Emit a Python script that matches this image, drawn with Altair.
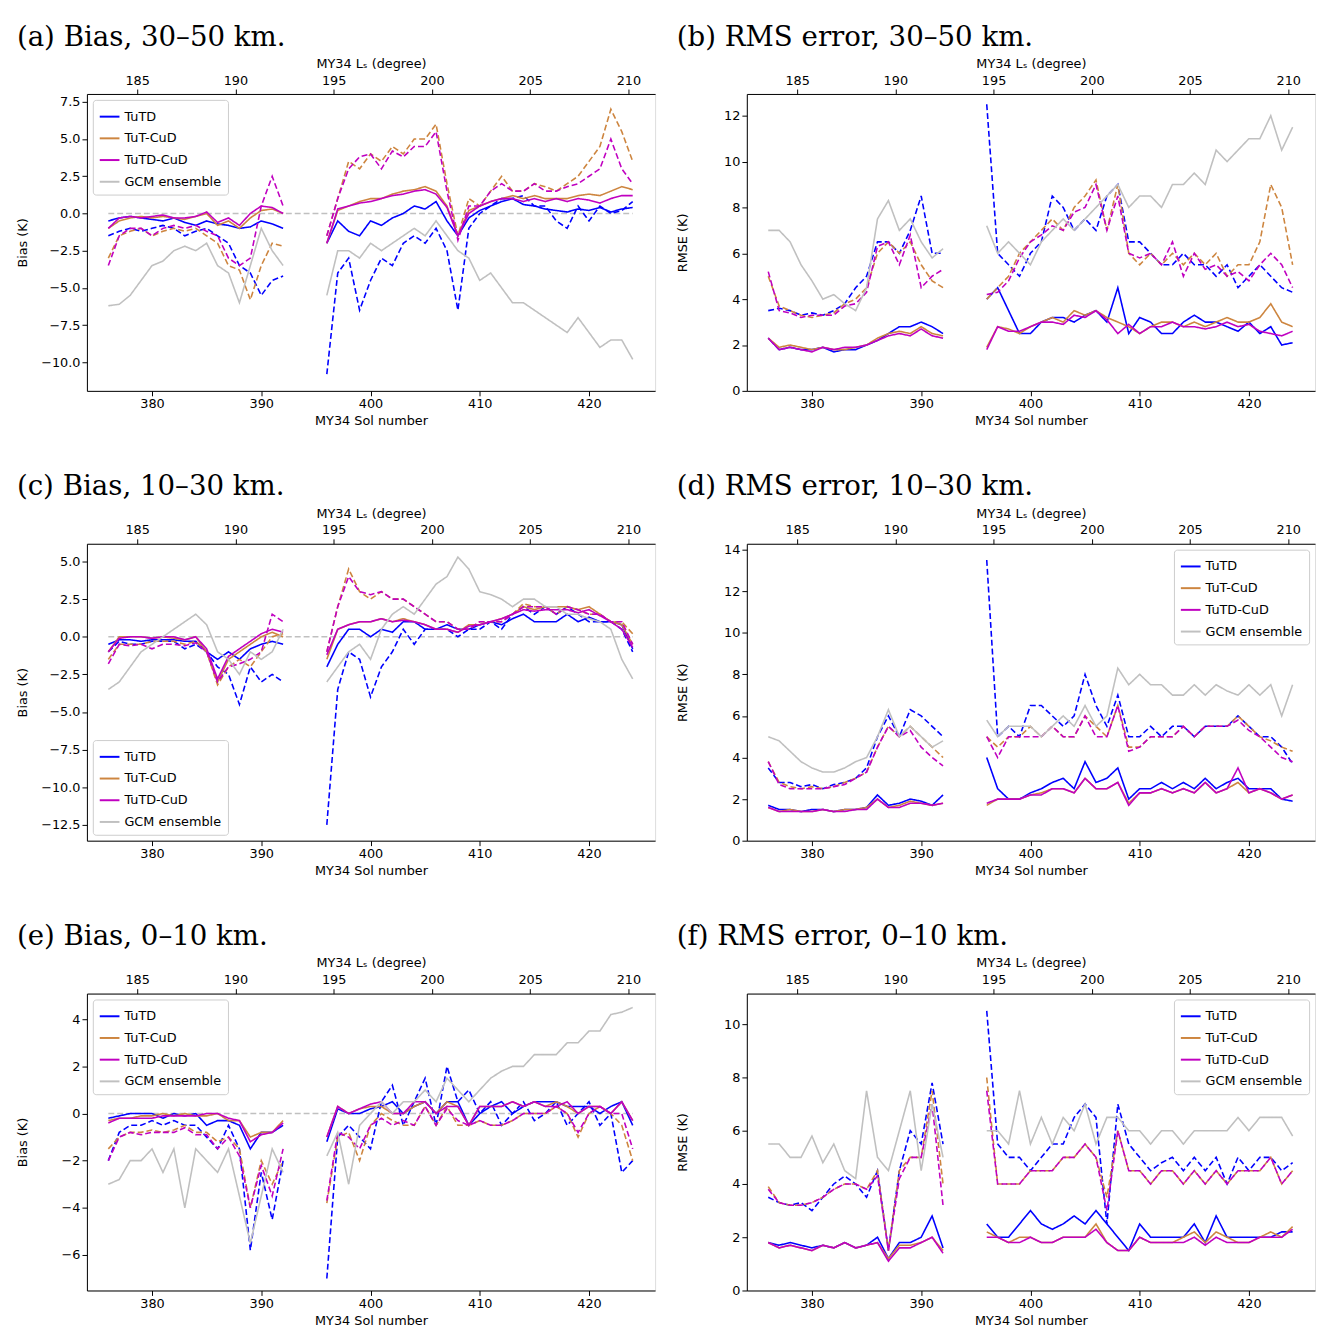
import altair as alt
import pandas as pd

SOL1 = list(range(376, 393))
SOL2 = list(range(396, 425))
SERIES = ["TuTD", "TuT-CuD", "TuTD-CuD", "GCM ensemble"]
COLORS = ["#0000ff", "#cd853f", "#c000c0", "#c0c0c0"]

# ---- panel a: bias 30-50 km ----
a_tutd = [-0.5,-0.3,-0.2,-0.3,-0.4,-0.5,-0.3,-0.6,-0.8,-0.5,-0.7,-0.8,-1.0,-0.9,-0.5,-0.7,-1.0] + [-2,-0.5,-1.2,-1.5,-0.5,-0.8,-0.3,0,0.5,0.3,0.8,-0.5,-1.5,-0.3,0.2,0.5,0.8,1.0,0.6,0.5,0.3,0.2,0.1,0.3,0.2,0.4,0.1,0.3,0.4]
a_tutd_d = [-1.5,-1.2,-1.0,-1.2,-1.0,-0.8,-1.0,-1.5,-1.2,-1.0,-1.5,-2.0,-3.5,-4.0,-5.5,-4.5,-4.2] + [-10.8,-4,-3,-6.5,-4.5,-3,-3.5,-2,-1.5,-2,-1.0,-2.5,-6.5,-1.0,0,0.5,1.0,1.0,1.2,0.5,0.5,-0.5,-1.0,0.5,-0.5,0.5,0,0.2,0.8]
a_tutcud = [-1.0,-0.5,-0.3,-0.2,-0.3,-0.2,-0.3,-0.4,-0.2,0,-0.8,-0.5,-1.0,-0.3,0.2,0.3,0] + [-2,0.2,0.5,0.8,1.0,1.0,1.3,1.5,1.6,1.8,1.5,0.5,-1.5,0.2,0.5,0.8,1.0,1.2,1.0,1.2,1.0,1.0,1.0,1.2,1.3,1.2,1.5,1.8,1.6]
a_tutcud_d = [-3,-1.5,-1.2,-1.0,-1.5,-1.2,-1.0,-1.2,-1.0,-1.5,-2.0,-3.5,-3.8,-5.8,-3.5,-2.0,-2.2] + [-1.5,1.0,3.5,3.0,4.0,3.5,4.5,4.0,5.0,5.0,6.0,2.0,-1.5,1.0,0.5,1.5,2.5,1.5,1.5,2.0,1.8,1.5,2.0,2.5,3.5,4.5,7.0,5.5,3.5]
a_tutdcud = [-1.0,-0.3,-0.2,-0.3,-0.2,-0.1,-0.3,-0.3,-0.2,0.1,-0.6,-0.3,-0.8,0,0.5,0.4,0] + [-2,0.3,0.5,0.7,0.8,1.0,1.2,1.3,1.5,1.6,1.3,0.4,-1.5,0,0.5,0.8,1.0,1.0,0.8,1.0,0.8,1.0,0.8,1.0,0.9,0.7,1.0,1.2,1.2]
a_tutdcud_d = [-3.5,-1.5,-1.0,-1.0,-1.5,-1.0,-0.8,-1.0,-0.8,-1.2,-1.5,-3.0,-3.5,-3.0,0.5,2.5,0.5] + [-1.5,1.0,3.0,3.8,4.0,3.0,4.2,3.8,4.5,4.5,5.5,1.5,-1.8,0.5,0.5,1.5,2.0,1.5,1.5,2.0,1.5,1.5,1.8,2.0,2.5,3.0,5.0,3.0,2.0]
a_gcm = [-6.2,-6.1,-5.5,-4.5,-3.5,-3.2,-2.5,-2.2,-2.5,-2.0,-3.5,-4.0,-6.0,-3.5,-1.0,-2.5,-3.5] + [-5.5,-2.5,-2.5,-3,-2,-2.5,-2,-1.5,-1,-1.5,-0.5,-1.5,-2.5,-3,-4.5,-4,-5,-6,-6,-6.5,-7,-7.5,-8,-7,-8,-9,-8.5,-8.5,-9.8]

# ---- panel b: RMSE 30-50 km ----
b_tutd = [2.3,1.8,1.9,1.8,1.8,1.9,1.7,1.8,1.8,2.0,2.2,2.5,2.8,2.8,3.0,2.8,2.5] + [4.0,4.5,3.5,2.5,2.5,3.0,3.2,3.2,3.0,3.3,3.5,3.0,4.5,2.5,3.2,3.0,2.5,2.5,3.0,3.3,3.0,3.0,2.8,2.6,3.0,2.5,2.8,2.0,2.1]
b_tutd_d = [3.5,3.6,3.5,3.3,3.4,3.3,3.5,3.8,4.5,5.0,6.5,6.5,6.0,7.0,8.5,6.0,6.0] + [12.5,6.0,5.5,5.0,6.0,6.5,8.5,8.0,7.0,7.5,7.0,8.5,9.0,6.5,6.5,6.0,5.5,5.5,6.0,5.5,5.5,5.0,5.5,4.5,5.0,5.5,5.0,4.5,4.3]
b_tutcud = [2.3,1.9,2.0,1.9,1.8,1.9,1.8,1.8,1.9,2.0,2.3,2.5,2.6,2.5,2.8,2.5,2.4] + [1.9,2.8,2.7,2.5,2.8,3.0,3.2,3.0,3.5,3.3,3.5,3.2,3.0,2.8,2.5,2.8,3.0,3.0,2.8,3.0,2.8,3.0,3.2,3.0,3.0,3.2,3.8,3.0,2.8]
b_tutcud_d = [5.0,3.7,3.5,3.3,3.2,3.3,3.4,3.8,4.0,4.5,6.0,6.5,6.0,6.5,5.5,4.8,4.5] + [4.0,4.5,5.0,6.0,6.5,7.0,7.5,7.0,8.0,8.5,9.2,7.0,9.0,6.0,5.5,6.0,5.5,6.0,5.5,6.0,5.5,6.0,5.0,5.5,5.5,6.5,9.0,8.0,5.5]
b_tutdcud = [2.3,1.8,1.9,1.8,1.7,1.9,1.8,1.9,1.9,2.0,2.2,2.4,2.5,2.4,2.7,2.4,2.3] + [1.8,2.8,2.6,2.6,2.8,3.0,3.0,2.9,3.3,3.2,3.5,3.1,2.5,2.9,2.5,2.8,2.8,3.0,2.8,2.8,2.7,2.8,3.0,2.8,2.9,2.6,2.5,2.4,2.6]
b_tutdcud_d = [5.2,3.5,3.4,3.2,3.3,3.3,3.3,3.7,3.8,4.3,6.3,6.5,5.5,6.8,4.5,5.0,5.3] + [4.2,4.3,4.8,5.8,6.5,6.8,7.2,7.0,7.8,8.0,9.0,7.0,8.5,6.0,5.8,6.0,5.5,6.5,5.0,6.0,5.3,5.5,5.0,5.2,4.8,5.5,6.0,5.5,4.5]
b_gcm = [7.0,7.0,6.5,5.5,4.8,4.0,4.2,3.8,3.5,4.5,7.5,8.3,7.0,7.5,6.5,5.8,6.2] + [7.2,6.0,6.5,6.0,5.5,6.5,7.0,7.5,7.0,7.5,8.0,8.5,9.0,8.0,8.5,8.5,8.0,9.0,9.0,9.5,9.0,10.5,10.0,10.5,11.0,11.0,12.0,10.5,11.5]

# ---- panel c: bias 10-30 km ----
c_tutd = [-0.5,-0.2,-0.2,-0.3,-0.2,-0.2,-0.2,-0.3,-0.3,-1.0,-1.5,-1.0,-1.5,-0.8,-0.5,-0.3,-0.5] + [-2.0,-0.5,0.5,0.5,0,0.5,0.3,1.0,1.0,0.5,0.5,0.8,0.5,0.5,0.8,1.0,0.8,1.2,1.5,1.0,1.0,1.0,1.5,1.0,1.3,1.0,1.0,0.8,-0.8]
c_tutd_d = [-1.0,-0.3,-0.5,-0.5,-0.3,-0.3,-0.3,-0.8,-0.5,-1.0,-2.0,-2.5,-4.5,-2.0,-3.0,-2.5,-3.0] + [-12.5,-3.5,-1.0,-1.5,-4.0,-2.0,-1.0,0.5,-0.5,0.5,0.5,0.5,0.0,0.5,0.5,1.0,0.5,1.5,2.0,1.5,2.0,1.5,2.0,1.5,1.0,1.0,1.0,0.5,-1.0]
c_tutcud = [-1.0,0,0,0,-0.1,0,-0.1,-0.2,0,-1.0,-3.0,-1.5,-1.0,-0.5,0,0.3,0] + [-1.5,0.5,0.8,1.0,1.0,1.2,1.0,1.2,1.0,0.8,0.5,0.5,0.3,0.8,0.8,1.0,1.2,1.5,2.0,1.8,2.0,2.0,2.0,1.8,2.0,1.5,1.0,0.8,-0.5]
c_tutcud_d = [-1.5,-0.5,-0.5,-0.5,-0.3,-0.3,-0.3,-0.5,-0.3,-1.0,-3.2,-2.0,-1.5,-2.0,-1.0,0,0.2] + [-1.0,2.0,4.5,3.0,2.5,3.0,2.5,2.5,2.0,1.5,1.0,1.0,0.5,0.5,1.0,1.0,1.0,1.5,2.2,2.0,2.0,1.5,2.0,1.8,1.5,1.5,1.0,1.0,0.2]
c_tutdcud = [-1.0,-0.1,0,0,-0.1,0,0,-0.2,0,-0.8,-2.8,-1.3,-0.8,-0.3,0.2,0.5,0.3] + [-1.2,0.5,0.8,1.0,1.0,1.2,1.0,1.1,1.0,0.8,0.5,0.5,0.3,0.7,0.8,1.0,1.2,1.5,1.8,1.7,1.8,1.8,1.8,1.6,1.8,1.4,1.0,0.5,-0.7]
c_tutdcud_d = [-1.8,-0.5,-0.6,-0.5,-0.8,-0.5,-0.5,-0.6,-0.4,-1.0,-3.0,-2.0,-1.8,-1.5,-1.0,1.5,1.0] + [-1.0,2.0,4.0,3.0,2.8,3.0,2.5,2.5,2.0,1.5,1.0,1.0,0.5,0.5,1.0,1.0,1.0,1.5,2.0,2.0,2.0,1.5,2.0,1.8,1.5,1.5,1.0,1.0,-0.5]
c_gcm = [-3.5,-3.0,-2.0,-1.0,-0.5,0,0.5,1.0,1.5,0.8,-1.0,-1.5,-2.5,-1.0,-1.5,-1.0,0.5] + [-3.0,-2.0,-1.0,-0.5,-1.5,0.5,1.5,2.0,1.5,2.5,3.5,4.0,5.3,4.5,3.0,2.8,2.5,2.0,2.5,2.5,2.0,2.0,1.5,1.5,1.2,1.0,0.5,-1.5,-2.8]

# ---- panel d: RMSE 10-30 km ----
d_tutd = [1.7,1.5,1.5,1.4,1.5,1.5,1.4,1.5,1.5,1.6,2.2,1.7,1.8,2.0,1.9,1.7,2.2] + [4.0,2.5,2.0,2.0,2.3,2.5,2.8,3.0,2.5,3.8,2.8,3.0,3.5,2.0,2.5,2.5,2.8,2.5,2.8,2.5,3.0,2.5,2.8,3.0,2.5,2.5,2.5,2.0,1.9]
d_tutd_d = [3.5,2.8,2.8,2.6,2.7,2.5,2.7,2.8,3.0,3.5,5.0,6.0,5.0,6.3,6.0,5.5,5.0] + [13.5,5.0,5.5,5.0,6.5,6.5,6.0,5.5,6.0,8.0,6.5,5.5,7.0,5.0,5.0,5.5,5.0,5.5,5.5,5.0,5.5,5.5,5.5,6.0,5.5,5.0,5.0,4.5,3.7]
d_tutcud = [1.6,1.4,1.5,1.4,1.4,1.5,1.4,1.5,1.5,1.6,2.0,1.6,1.7,1.9,1.8,1.7,1.8] + [1.7,2.0,2.0,2.0,2.2,2.3,2.5,2.5,2.3,3.0,2.5,2.5,2.8,1.8,2.3,2.3,2.5,2.3,2.5,2.3,2.8,2.3,2.5,2.8,2.3,2.5,2.3,2.0,2.2]
d_tutcud_d = [3.8,2.8,2.6,2.5,2.6,2.5,2.6,2.8,3.0,3.3,4.5,5.5,5.0,5.5,5.0,4.5,4.0] + [5.0,4.5,5.0,5.0,5.5,5.0,5.5,5.0,5.0,6.0,5.5,5.0,6.5,4.5,4.5,5.0,5.0,5.0,5.5,5.0,5.5,5.5,5.5,6.0,5.5,5.0,4.8,4.5,4.3]
d_tutdcud = [1.6,1.4,1.4,1.4,1.4,1.5,1.4,1.4,1.5,1.5,2.0,1.6,1.6,1.8,1.8,1.7,1.8] + [1.8,2.0,2.0,2.0,2.2,2.2,2.5,2.5,2.3,3.0,2.5,2.5,2.8,1.7,2.3,2.3,2.5,2.3,2.5,2.3,2.8,2.3,2.5,3.5,2.3,2.5,2.3,2.0,2.2]
d_tutdcud_d = [3.8,2.7,2.5,2.5,2.5,2.5,2.6,2.7,3.0,3.3,4.5,5.5,5.0,5.3,4.5,4.0,3.6] + [5.0,4.0,5.0,5.0,5.0,5.0,5.5,5.0,5.0,6.0,5.0,5.0,6.5,4.3,4.5,5.0,5.0,5.0,5.5,5.0,5.5,5.5,5.5,5.8,5.3,5.0,4.5,4.0,3.8]
d_gcm = [5.0,4.8,4.3,3.8,3.5,3.3,3.3,3.5,3.8,4.0,5.0,6.3,5.0,5.5,5.0,4.5,4.8] + [5.8,5.0,5.5,5.5,5.5,5.0,5.5,6.0,5.5,6.5,5.5,6.0,8.3,7.5,8.0,7.5,7.5,7.0,7.0,7.5,7.0,7.5,7.2,7.0,7.5,7.0,7.5,6.0,7.5]

# ---- panel e: bias 0-10 km ----
e_tutd = [-0.2,-0.1,0,0,0,-0.2,0,-0.1,0,-0.5,-0.3,-0.3,-0.5,-1.5,-0.8,-0.8,-0.5] + [-1.2,0.2,0,0,0.2,0.3,0.5,0,0.3,0.5,0,0.5,0.5,-0.5,0,0.3,0.5,0,0.3,0.5,0.5,0.5,0.3,0.3,0.3,0,0.3,0.5,-0.5]
e_tutd_d = [-2.0,-0.8,-0.5,-0.5,-0.3,-0.5,-0.3,-0.5,-0.5,-1.0,-1.5,-0.5,-1.5,-5.8,-2.5,-4.5,-2.0] + [-7.0,-1.0,-0.5,-1.0,-1.5,0.5,1.2,-0.5,0.5,1.5,-0.5,2.0,0.5,1.0,0,0.5,-0.5,0,0.5,-0.3,0,0.5,-0.5,0,0.5,-0.5,0,-2.5,-2.0]
e_tutcud = [-0.3,-0.2,-0.2,-0.1,-0.1,0,-0.1,0,-0.1,-0.1,0,-0.3,-0.3,-1.0,-0.8,-0.8,-0.3] + [-1.0,0.3,0,0.2,0.3,0.3,0,0,0.3,0.5,0,0.5,0.3,-0.5,0.3,0.3,0.3,0.5,0.3,0.5,0.3,0.5,0.3,0,0.3,0.3,0,0.5,-0.3]
e_tutcud_d = [-1.5,-1.0,-0.8,-0.8,-0.7,-0.8,-0.7,-0.5,-0.8,-0.8,-1.2,-1.0,-1.5,-4.0,-2.0,-3.0,-2.0] + [-3.8,-1.0,-0.8,-2.0,-0.5,0,-0.3,-0.5,-0.5,0.3,-0.5,0.3,-0.5,-0.5,-0.3,-0.5,-0.5,-0.3,0,0,0,0.3,0,-1.0,0,0.3,0,-0.5,-2.0]
e_tutdcud = [-0.4,-0.2,-0.2,-0.2,-0.2,-0.1,-0.1,-0.1,-0.1,0,0,-0.2,-0.3,-1.2,-0.9,-0.8,-0.4] + [-1.0,0.3,0,0.2,0.4,0.5,0,0,0.5,0.5,0,0.3,0.3,-0.5,0.3,0.3,0.3,0.5,0.3,0.5,0.3,0.3,0.5,0,0.3,0.3,0,0.5,-0.3]
e_tutdcud_d = [-2.0,-1.0,-0.8,-0.9,-0.8,-0.8,-0.8,-0.6,-0.9,-0.9,-1.5,-1.0,-1.8,-4.0,-2.2,-3.5,-1.5] + [-3.7,-0.8,-1.0,-1.5,-0.5,-0.2,-0.5,-0.3,-0.5,0.3,-0.5,0.2,-0.3,-0.5,-0.3,-0.5,-0.5,-0.3,0,0,0,0.3,0,-0.8,0,0.3,0,0,-1.5]
e_gcm = [-3.0,-2.8,-2.0,-2.0,-1.5,-2.5,-1.5,-4.0,-1.5,-2.0,-2.5,-1.5,-3.5,-5.5,-3.5,-1.5,-2.5] + [-1.8,-0.8,-3.0,-0.5,0,0.5,0,0.5,0.5,1.0,0.5,1.5,1.0,0.5,1.0,1.5,1.8,2.0,2.0,2.5,2.5,2.5,3.0,3.0,3.5,3.5,4.2,4.3,4.5]

# ---- panel f: RMSE 0-10 km ----
f_tutd = [1.8,1.7,1.8,1.7,1.6,1.7,1.6,1.8,1.6,1.7,2.0,1.2,1.8,1.8,2.0,2.8,1.6] + [2.5,2.0,2.0,2.5,3.0,2.5,2.3,2.5,2.8,2.5,3.0,2.5,2.0,1.5,2.5,2.0,2.0,2.0,2.0,2.5,1.8,2.8,2.0,2.0,2.0,2.0,2.0,2.2,2.2]
f_tutd_d = [3.5,3.3,3.2,3.3,3.0,3.5,4.0,4.3,4.0,3.5,4.5,1.5,4.5,6.0,5.5,7.8,5.5] + [10.5,5.5,5.0,5.0,4.5,5.0,5.5,5.5,6.5,7.0,6.5,2.5,7.0,5.5,5.0,4.5,4.8,5.0,4.5,5.0,4.5,5.0,4.0,5.0,4.5,5.0,5.0,4.5,4.8]
f_tutcud = [1.8,1.6,1.7,1.6,1.5,1.7,1.6,1.8,1.6,1.7,1.8,1.2,1.7,1.7,1.8,2.0,1.5] + [2.2,2.0,1.8,2.0,2.0,1.8,1.8,2.0,2.0,2.0,2.5,1.8,1.5,1.5,2.0,1.8,1.8,1.8,2.0,2.2,1.8,2.2,2.0,1.8,1.8,2.0,2.2,2.0,2.4]
f_tutcud_d = [3.9,3.3,3.2,3.2,3.3,3.5,3.8,4.0,4.0,3.8,4.5,1.5,4.5,5.0,5.0,7.5,4.0] + [8.0,4.0,4.0,4.0,4.5,4.5,4.5,5.0,5.0,5.5,5.0,3.5,6.0,4.5,4.5,4.0,4.5,4.5,4.0,4.5,4.0,4.5,4.0,4.5,4.5,4.5,5.0,4.0,4.5]
f_tutdcud = [1.8,1.6,1.7,1.6,1.5,1.7,1.6,1.8,1.6,1.7,1.8,1.1,1.6,1.6,1.8,2.0,1.4] + [2.0,2.0,1.8,1.8,2.0,1.8,1.8,2.0,2.0,2.0,2.3,1.8,1.5,1.5,2.0,1.8,1.8,1.8,1.8,2.0,1.7,2.0,1.8,1.8,1.8,2.0,2.0,2.0,2.3]
f_tutdcud_d = [3.8,3.3,3.2,3.2,3.3,3.5,3.8,4.0,4.0,3.8,4.3,1.5,4.2,5.0,5.0,7.0,3.2] + [7.5,4.0,4.0,4.0,4.5,4.5,4.5,5.0,5.0,5.5,5.0,3.0,6.0,4.5,4.5,4.0,4.5,4.5,4.0,4.5,4.0,4.5,4.0,4.5,4.5,4.5,5.0,4.0,4.5]
f_gcm = [5.5,5.5,5.0,5.0,5.8,4.8,5.5,4.5,4.2,7.5,5.0,4.5,6.0,7.5,4.5,7.0,5.0] + [6.0,6.0,5.5,7.5,5.5,6.5,5.5,6.5,6.0,7.0,5.5,6.5,6.5,6.0,6.0,5.5,6.0,6.0,5.5,6.0,6.0,6.0,6.0,6.5,6.0,6.5,6.5,6.5,5.8]

LS_TICKS = [185, 190, 195, 200, 205, 210]
SOL_DOMAIN = [374.04, 426.05]
LS_DOMAIN = [182.44, 211.36]

FONT = "DejaVu Sans"
AX = dict(grid=False, labelFontSize=13, titleFontSize=13, titleFont=FONT, labelFont=FONT,
          titleFontWeight="normal", tickColor="black", domainColor="black",
          labelColor="black", titleColor="black")


def make_df(series_lists):
    rows = []
    sols = SOL1 + SOL2
    n1 = len(SOL1)
    for name, style, vals in series_lists:
        for i, (s, v) in enumerate(zip(sols, vals)):
            rows.append({"sol": s, "value": v, "series": name, "style": style,
                         "key": f"{name}|{style}|{0 if i < n1 else 1}"})
    return pd.DataFrame(rows)


def panel(title, ytitle, ydomain, yticks, data, legend_orient, bias, fmt):
    sl = [("TuTD", "solid", data[0]), ("TuTD", "dashed", data[1]),
          ("TuT-CuD", "solid", data[2]), ("TuT-CuD", "dashed", data[3]),
          ("TuTD-CuD", "solid", data[4]), ("TuTD-CuD", "dashed", data[5]),
          ("GCM ensemble", "solid", data[6])]
    df = make_df(sl)
    yscale = alt.Scale(domain=ydomain, nice=False, zero=False)
    xscale = alt.Scale(domain=SOL_DOMAIN, nice=False, zero=False)
    lines = alt.Chart(df).mark_line(strokeWidth=1.6, clip=True).encode(
        x=alt.X("sol:Q", scale=xscale,
                axis=alt.Axis(title="MY34 Sol number", values=[380, 390, 400, 410, 420], **AX)),
        y=alt.Y("value:Q", scale=yscale,
                axis=alt.Axis(title=ytitle, values=yticks, format=fmt, minExtent=50,
                              titlePadding=8, **AX)),
        color=alt.Color("series:N", scale=alt.Scale(domain=SERIES, range=COLORS),
                        legend=alt.Legend(title=None, orient=legend_orient, labelFontSize=13,
                                          labelFont=FONT, labelColor="black",
                                          symbolType="stroke",
                                          symbolStrokeWidth=2, symbolSize=400,
                                          strokeColor="#cccccc", padding=6,
                                          cornerRadius=3, fillColor="white",
                                          rowPadding=4, offset=6)),
        strokeDash=alt.StrokeDash("style:N",
                                  scale=alt.Scale(domain=["solid", "dashed"],
                                                  range=[[1, 0], [6, 3]]),
                                  legend=None),
        detail="key:N",
    )
    layers = []
    if bias:
        zdf = pd.DataFrame({"sol": [376, 424], "value": [0, 0]})
        zero = alt.Chart(zdf).mark_line(color="#c0c0c0", strokeDash=[6, 3],
                                        strokeWidth=1.5).encode(
            x=alt.X("sol:Q", scale=xscale),
            y=alt.Y("value:Q", scale=yscale))
        layers.append(zero)
    layers.append(lines)
    base = alt.layer(*layers)
    ldf = pd.DataFrame({"ls": LS_TICKS, "value": [ydomain[0]] * len(LS_TICKS)})
    top = alt.Chart(ldf).mark_point(opacity=0).encode(
        x=alt.X("ls:Q", scale=alt.Scale(domain=LS_DOMAIN, nice=False, zero=False),
                axis=alt.Axis(orient="top", title="MY34 Lₛ (degree)", values=LS_TICKS, **AX)),
        y=alt.Y("value:Q", scale=yscale),
    )
    return alt.layer(base, top).resolve_scale(x="independent").properties(
        width=576, height=301,
        title=alt.TitleParams(title, anchor="start", frame="bounds", font="DejaVu Serif",
                              fontSize=28, fontWeight="normal", color="black", offset=6),
    )


pa = panel("(a) Bias, 30–50 km.", "Bias (K)", [-11.92, 8.03], [-10, -7.5, -5, -2.5, 0, 2.5, 5, 7.5],
           [a_tutd, a_tutd_d, a_tutcud, a_tutcud_d, a_tutdcud, a_tutdcud_d, a_gcm], "top-left", True, ".1f")
pb = panel("(b) RMS error, 30–50 km.", "RMSE (K)", [0, 12.95], [0, 2, 4, 6, 8, 10, 12],
           [b_tutd, b_tutd_d, b_tutcud, b_tutcud_d, b_tutdcud, b_tutdcud_d, b_gcm], "top-left", False, "d")
pc = panel("(c) Bias, 10–30 km.", "Bias (K)", [-13.55, 6.18], [-12.5, -10, -7.5, -5, -2.5, 0, 2.5, 5],
           [c_tutd, c_tutd_d, c_tutcud, c_tutcud_d, c_tutdcud, c_tutdcud_d, c_gcm], "bottom-left", True, ".1f")
pd_ = panel("(d) RMS error, 10–30 km.", "RMSE (K)", [0, 14.28], [0, 2, 4, 6, 8, 10, 12, 14],
            [d_tutd, d_tutd_d, d_tutcud, d_tutcud_d, d_tutdcud, d_tutdcud_d, d_gcm], "top-right", False, "d")
pe = panel("(e) Bias, 0–10 km.", "Bias (K)", [-7.51, 5.09], [-6, -4, -2, 0, 2, 4],
           [e_tutd, e_tutd_d, e_tutcud, e_tutcud_d, e_tutdcud, e_tutdcud_d, e_gcm], "top-left", True, "d")
pf = panel("(f) RMS error, 0–10 km.", "RMSE (K)", [0, 11.15], [0, 2, 4, 6, 8, 10],
           [f_tutd, f_tutd_d, f_tutcud, f_tutcud_d, f_tutdcud, f_tutdcud_d, f_gcm], "top-right", False, "d")

chart = alt.vconcat(
    alt.hconcat(pa, pb, spacing=20),
    alt.hconcat(pc, pd_, spacing=20),
    alt.hconcat(pe, pf, spacing=20),
    spacing=45,
).properties(padding={"left": 8, "top": 6, "right": 0, "bottom": 0}
).configure_view(stroke="black", strokeWidth=1).configure(background="white")

chart.save("out.html", embed_options={"renderer": "svg", "actions": False})
